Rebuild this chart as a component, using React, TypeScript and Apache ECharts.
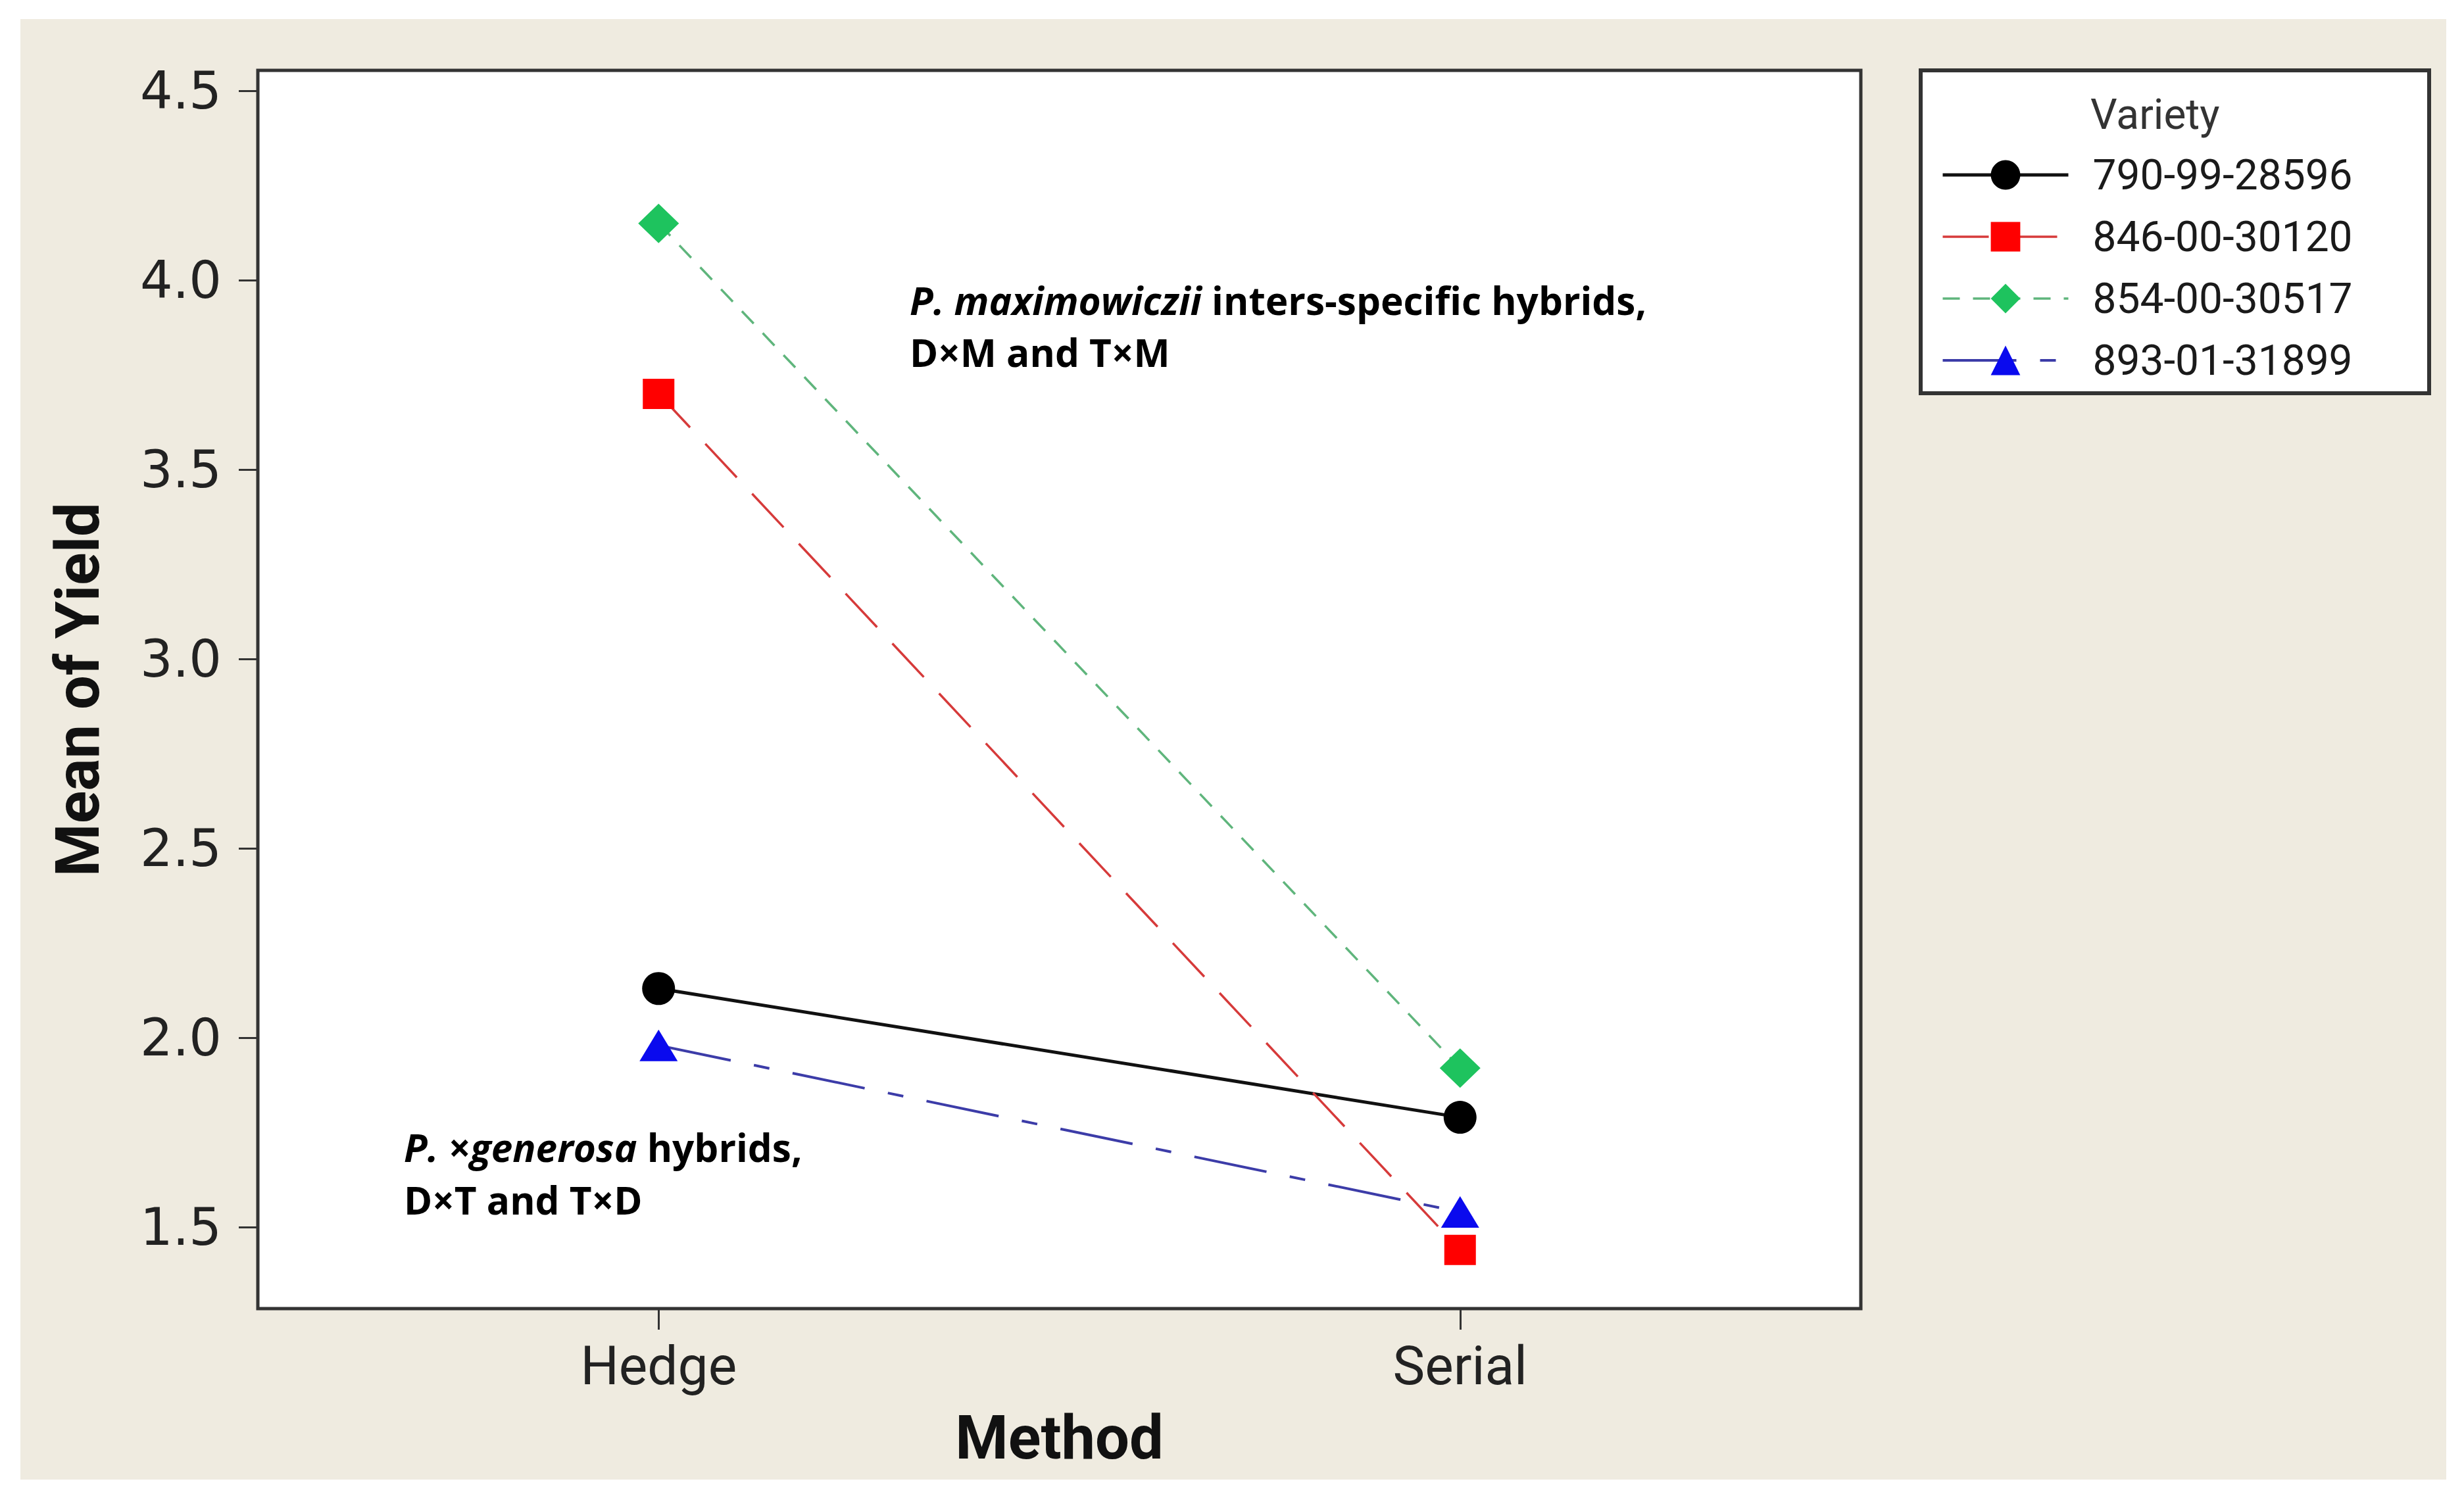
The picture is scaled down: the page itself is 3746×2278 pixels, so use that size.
import React, { useEffect, useRef } from "react";
import * as echarts from "echarts";

const methods = ["Hedge", "Serial"];
const varieties = ["790-99-28596", "846-00-30120", "854-00-30517", "893-01-31899"];
const yield790 = [2.13, 1.79];
const yield846 = [3.7, 1.44];
const yield854 = [4.15, 1.92];
const yield893 = [1.98, 1.54];
const yTicks = [1.5, 2.0, 2.5, 3.0, 3.5, 4.0, 4.5];
const legendTitle = "Variety";
const noteTopItalic = "P. maximowiczii";
const noteTopRest = " inters-specific hybrids,";
const noteTopLine2 = "D×M and T×M";
const noteBottomItalic = "P. ×generosa";
const noteBottomRest = " hybrids,";
const noteBottomLine2 = "D×T and T×D";

export default function App() {
  const ref = useRef<HTMLDivElement>(null);

  useEffect(() => {
    if (!ref.current) return;
    const chart = echarts.init(ref.current, null, { renderer: "svg" });
    const noteFont = { fontFamily: "Open Sans", fontSize: 58.5, fontWeight: "bold", fill: "#000" };
    chart.setOption({
      animation: false,
      grid: {
        left: 392,
        top: 107,
        width: 2437,
        height: 1883,
        show: true,
        backgroundColor: "#ffffff",
        borderColor: "#333333",
        borderWidth: 5,
      },
      xAxis: {
        type: "category",
        data: methods,
        boundaryGap: true,
        axisLine: { show: false },
        axisTick: { show: true, alignWithLabel: true, length: 32, lineStyle: { color: "#333", width: 3 } },
        axisLabel: { margin: 46, fontFamily: "Roboto", fontSize: 82, color: "#222" },
        name: "Method",
        nameLocation: "middle",
        nameGap: 150,
        nameTextStyle: { fontFamily: "Roboto", fontWeight: "bold", fontSize: 92, color: "#111" },
        splitLine: { show: false },
      },
      yAxis: {
        type: "value",
        min: 1.285,
        max: 4.554,
        axisLine: { show: false },
        splitLine: { show: false },
        axisTick: { show: true, customValues: yTicks, length: 29, lineStyle: { color: "#333", width: 3 } },
        axisLabel: {
          customValues: yTicks,
          margin: 55,
          fontFamily: "DejaVu Sans",
          fontSize: 78,
          color: "#222",
          formatter: (v: number) => v.toFixed(1),
        },
        name: "Mean of Yield",
        nameLocation: "middle",
        nameGap: 228,
        nameMoveOverlap: false,
        nameTextStyle: { fontFamily: "Roboto", fontWeight: "bold", fontSize: 92, color: "#111" },
      },
      legend: {
        orient: "vertical",
        left: 2946,
        top: 229,
        itemWidth: 191,
        itemHeight: 56,
        itemGap: 30,
        selectedMode: false,
        data: varieties,
        lineStyle: { width: "inherit" },
        textStyle: { fontFamily: "Roboto", fontSize: 64, color: "#1a1a1a", padding: [0, 0, 0, 32] },
      },
      graphic: {
        elements: [
          {
            type: "rect",
            z: 1,
            shape: { x: 2920, y: 107, width: 773, height: 491 },
            style: { fill: "#ffffff", stroke: "#333333", lineWidth: 6 },
          },
          {
            type: "text",
            z: 10,
            x: 3178,
            y: 174,
            style: { text: legendTitle, fontFamily: "Roboto", fontSize: 64, fill: "#333", verticalAlign: "middle" },
          },
          {
            type: "text",
            z: 10,
            x: 1383,
            y: 456,
            style: {
              text: "{i|" + noteTopItalic + "}{n|" + noteTopRest + "}",
              verticalAlign: "middle",
              rich: {
                i: { ...noteFont, fontStyle: "italic" },
                n: { ...noteFont },
              },
            },
          },
          {
            type: "text",
            z: 10,
            x: 1383,
            y: 535,
            style: { text: noteTopLine2, verticalAlign: "middle", ...noteFont },
          },
          {
            type: "text",
            z: 10,
            x: 614,
            y: 1744,
            style: {
              text: "{i|" + noteBottomItalic + "}{n|" + noteBottomRest + "}",
              verticalAlign: "middle",
              rich: {
                i: { ...noteFont, fontStyle: "italic" },
                n: { ...noteFont },
              },
            },
          },
          {
            type: "text",
            z: 10,
            x: 614,
            y: 1824,
            style: { text: noteBottomLine2, verticalAlign: "middle", ...noteFont },
          },
        ],
      },
      series: [
        {
          name: varieties[0],
          type: "line",
          data: yield790,
          symbol: "circle",
          symbolSize: 50,
          silent: true,
          itemStyle: { color: "#000000" },
          lineStyle: { color: "#111111", width: 5, type: "solid" },
        },
        {
          name: varieties[1],
          type: "line",
          data: yield846,
          symbol: "rect",
          symbolSize: [48, 46],
          silent: true,
          itemStyle: { color: "#ff0000" },
          lineStyle: { color: "#d63a3a", width: 3.5, type: [70, 34] },
        },
        {
          name: varieties[2],
          type: "line",
          data: yield854,
          symbol: "diamond",
          symbolSize: [62, 60],
          silent: true,
          itemStyle: { color: "#1ec35e" },
          lineStyle: { color: "#5fb57c", width: 3.5, type: [26, 20] },
        },
        {
          name: varieties[3],
          type: "line",
          data: yield893,
          symbol: "triangle",
          symbolSize: [58, 48],
          silent: true,
          itemStyle: { color: "#0a0aee" },
          lineStyle: { color: "#3c3ca8", width: 4, type: [112, 36, 24, 36] },
        },
      ],
    });
    return () => chart.dispose();
  }, []);

  return (
    <div style={{ position: "absolute", left: 0, top: 0, width: 3746, height: 2278, background: "#ffffff" }}>
      <div style={{ position: "absolute", left: 31, top: 29, width: 3688, height: 2221, background: "#efebe0" }} />
      <div ref={ref} style={{ position: "absolute", left: 0, top: 0, width: 3746, height: 2278 }} />
    </div>
  );
}
